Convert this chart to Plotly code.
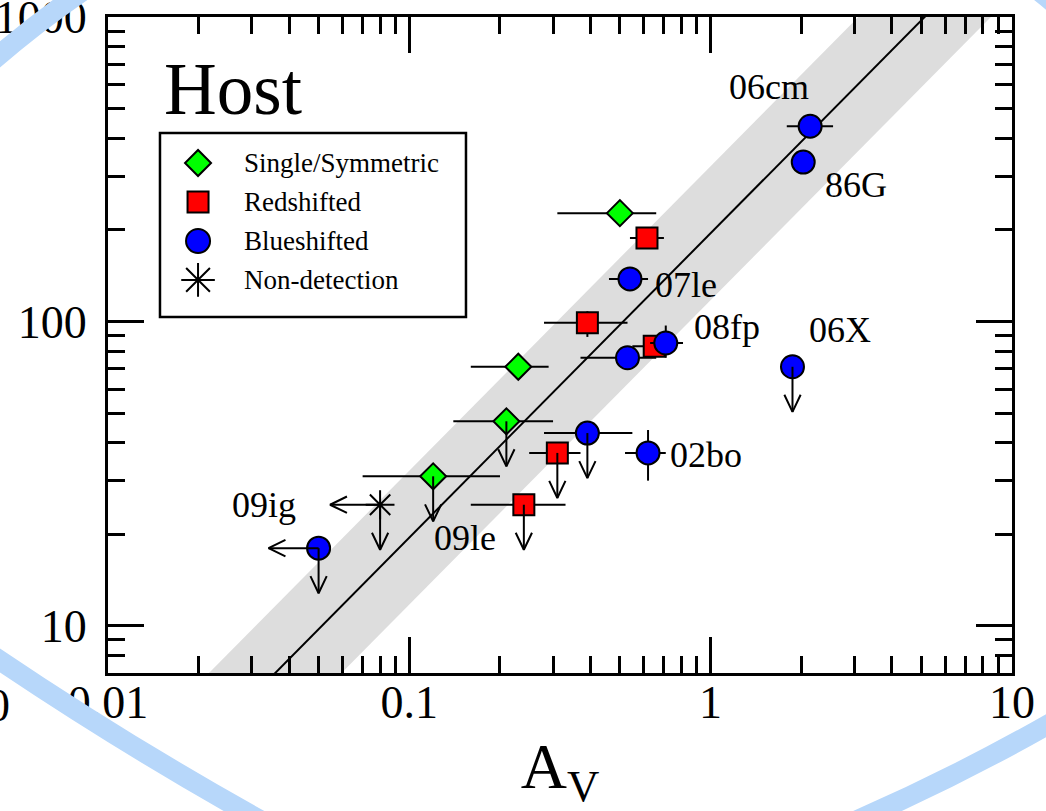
import math
import plotly.graph_objects as go

SERIF = "Liberation Serif, Times New Roman, serif"

# ---- measurements: host-galaxy absorption vs. A_V ----
# Single/Symmetric profiles
green_x = [0.50, 0.23, 0.21, 0.12]
green_y = [227, 71, 47, 31]
green_x_lo = [0.31, 0.16, 0.14, 0.070]
green_x_hi = [0.66, 0.29, 0.30, 0.20]
green_upper = [False, False, True, True]

# Redshifted profiles
red_x = [0.615, 0.39, 0.65, 0.31, 0.24]
red_y = [188, 99, 83, 37, 25]
red_x_lo = [0.54, 0.28, 0.55, 0.25, 0.16]
red_x_hi = [0.70, 0.53, 0.75, 0.37, 0.33]
red_y_lo = [188, 89, 83, 37, 25]
red_y_hi = [188, 108, 83, 37, 25]
red_upper = [False, False, False, True, True]

# Blueshifted profiles
blue_x = [2.14, 2.03, 0.54, 0.53, 0.71, 1.87, 0.39, 0.62, 0.05]
blue_y = [438, 334, 138, 76, 85, 71, 43, 37, 18]
blue_x_lo = [1.79, 2.03, 0.46, 0.37, 0.63, 1.87, 0.28, 0.52, 0.05]
blue_x_hi = [2.55, 2.03, 0.62, 0.66, 0.81, 1.87, 0.55, 0.71, 0.05]
blue_y_lo = [438, 334, 138, 76, 76, 71, 43, 30, 18]
blue_y_hi = [438, 334, 138, 76, 97, 71, 43, 44, 18]
blue_upper = [False, False, False, False, False, True, True, False, True]
blue_left = [False, False, False, False, False, False, False, False, True]

# Non-detection
nondet_x = [0.08]
nondet_y = [25]
nondet_upper = [True]
nondet_left = [True]

# Supernova names
sn_labels = ["06cm", "86G", "07le", "08fp", "06X", "02bo", "09ig", "09le"]
sn_label_x = [1.56, 3.03, 0.83, 1.13, 2.69, 0.965, 0.033, 0.153]
sn_label_y = [589, 281, 132, 96, 94, 36.3, 24.9, 19.4]

# Linear relation EW = FIT_NORM * A_V**FIT_SLOPE and its scatter band (dex)
FIT_NORM = 195.0
FIT_SLOPE = 1.0
BAND_DEX = 0.22
FIT_SPAN = [0.001, 100.0]

# Legend entries
legend_labels = ["Single/Symmetric", "Redshifted", "Blueshifted", "Non-detection"]

# ---- styling constants ----
ARROW_Y_DEX = 0.148     # length of downward limit arrows
ARROW_X_DEX = 0.166     # length of leftward limit arrows
HEAD_LEN_DEX = 0.056
HEAD_HALF_DEX = 0.027
RING_COLOR = "rgb(183,215,250)"

# page geometry (pixels)
W, H = 1046, 811
M_L, M_R, M_T, M_B = 108, 34, 17, 138
PLOT_W = W - M_L - M_R
PLOT_H = H - M_T - M_B


def err_plus(vals, his):
    return [h - v for v, h in zip(vals, his)]


def err_minus(vals, los):
    return [v - l for v, l in zip(vals, los)]


def down_arrows(xs, ys, flags):
    ax, ay = [], []
    for x, y, f in zip(xs, ys, flags):
        if not f:
            continue
        tip = y * 10 ** (-ARROW_Y_DEX)
        back = tip * 10 ** HEAD_LEN_DEX
        ax += [x, x, None, x * 10 ** (-HEAD_HALF_DEX), x, x * 10 ** HEAD_HALF_DEX, None]
        ay += [y, tip, None, back, tip, back, None]
    return ax, ay


def left_arrows(xs, ys, flags):
    ax, ay = [], []
    for x, y, f in zip(xs, ys, flags):
        if not f:
            continue
        tip = x * 10 ** (-ARROW_X_DEX)
        back = tip * 10 ** HEAD_LEN_DEX
        ax += [x, tip, None, back, tip, back, None]
        ay += [y, y, None, y * 10 ** HEAD_HALF_DEX, y, y * 10 ** (-HEAD_HALF_DEX), None]
    return ax, ay


def paper(px, py):
    """Page pixel position -> paper coordinates of the plot area."""
    return (px - M_L) / PLOT_W, (H - M_B - py) / PLOT_H


def arc_path(p0, ctrl, p1):
    (x0, y0), (cx, cy), (x1, y1) = paper(*p0), paper(*ctrl), paper(*p1)
    return f"M {x0:.4f},{y0:.4f} Q {cx:.4f},{cy:.4f} {x1:.4f},{y1:.4f}"


fig = go.Figure()

# scatter band around the relation
band_hi = [FIT_NORM * x ** FIT_SLOPE * 10 ** BAND_DEX for x in FIT_SPAN]
band_lo = [FIT_NORM * x ** FIT_SLOPE * 10 ** (-BAND_DEX) for x in FIT_SPAN]
fig.add_trace(go.Scatter(
    x=FIT_SPAN + FIT_SPAN[::-1], y=band_hi + band_lo[::-1],
    mode="lines", fill="toself", fillcolor="#dddddd",
    line=dict(width=0), hoverinfo="skip"))

# relation line
fig.add_trace(go.Scatter(
    x=FIT_SPAN, y=[FIT_NORM * x ** FIT_SLOPE for x in FIT_SPAN],
    mode="lines", line=dict(color="black", width=2), hoverinfo="skip"))

ERR_STYLE = dict(color="black", thickness=2, width=0)

fig.add_trace(go.Scatter(
    x=green_x, y=green_y, mode="markers", name="Single/Symmetric",
    marker=dict(symbol="diamond", size=20, color="#00ff00", opacity=1,
                line=dict(color="black", width=2)),
    error_x=dict(type="data", symmetric=False,
                 array=err_plus(green_x, green_x_hi),
                 arrayminus=err_minus(green_x, green_x_lo), **ERR_STYLE)))

fig.add_trace(go.Scatter(
    x=red_x, y=red_y, mode="markers", name="Redshifted",
    marker=dict(symbol="square", size=21, color="#ff0000", opacity=1,
                line=dict(color="black", width=2)),
    error_x=dict(type="data", symmetric=False,
                 array=err_plus(red_x, red_x_hi),
                 arrayminus=err_minus(red_x, red_x_lo), **ERR_STYLE),
    error_y=dict(type="data", symmetric=False,
                 array=err_plus(red_y, red_y_hi),
                 arrayminus=err_minus(red_y, red_y_lo), **ERR_STYLE)))

fig.add_trace(go.Scatter(
    x=blue_x, y=blue_y, mode="markers", name="Blueshifted",
    marker=dict(symbol="circle", size=23, color="#0000ff", opacity=1,
                line=dict(color="black", width=2)),
    error_x=dict(type="data", symmetric=False,
                 array=err_plus(blue_x, blue_x_hi),
                 arrayminus=err_minus(blue_x, blue_x_lo), **ERR_STYLE),
    error_y=dict(type="data", symmetric=False,
                 array=err_plus(blue_y, blue_y_hi),
                 arrayminus=err_minus(blue_y, blue_y_lo), **ERR_STYLE)))

fig.add_trace(go.Scatter(
    x=nondet_x, y=nondet_y, mode="markers", name="Non-detection",
    marker=dict(symbol="asterisk-open", size=24, color="black", opacity=1,
                line=dict(color="black", width=2))))

# limit arrows
arr_x, arr_y = [], []
for xs, ys, fl in [(green_x, green_y, green_upper), (red_x, red_y, red_upper),
                   (blue_x, blue_y, blue_upper), (nondet_x, nondet_y, nondet_upper)]:
    a, b = down_arrows(xs, ys, fl)
    arr_x += a
    arr_y += b
for xs, ys, fl in [(blue_x, blue_y, blue_left), (nondet_x, nondet_y, nondet_left)]:
    a, b = left_arrows(xs, ys, fl)
    arr_x += a
    arr_y += b
fig.add_trace(go.Scatter(x=arr_x, y=arr_y, mode="lines",
                         line=dict(color="black", width=2), hoverinfo="skip"))

# legend keys on an overlay axis spanning the plot area
legend_symbols = ["diamond", "square", "circle", "asterisk-open"]
legend_colors = ["#00ff00", "#ff0000", "#0000ff", "black"]
legend_sizes = [20, 21, 24, 28]
LEG_X = 0.0996
LEG_TEXT_X = 0.1482
LEG_TOP = 0.7774
LEG_STEP = 0.0594
leg_y = [LEG_TOP - i * LEG_STEP for i in range(len(legend_labels))]
fig.add_trace(go.Scatter(
    x=[LEG_X] * len(legend_labels), y=leg_y, mode="markers",
    xaxis="x2", yaxis="y2", hoverinfo="skip",
    marker=dict(symbol=legend_symbols, size=legend_sizes, color=legend_colors,
                opacity=1, line=dict(color="black", width=2))))

annotations = []
for lab, yy in zip(legend_labels, leg_y):
    annotations.append(dict(x=LEG_TEXT_X, y=yy, xref="paper", yref="paper",
                            text=lab, showarrow=False, xanchor="left", yanchor="middle",
                            font=dict(family=SERIF, size=27, color="black")))

# annotation positions on log axes are given in log10 units
for lab, lx, ly in zip(sn_labels, sn_label_x, sn_label_y):
    annotations.append(dict(x=math.log10(lx), y=math.log10(ly), xref="x", yref="y",
                            text=lab, showarrow=False, xanchor="center", yanchor="middle",
                            font=dict(family=SERIF, size=36, color="black")))

annotations.append(dict(x=0.0597, y=0.890, xref="paper", yref="paper", text="Host",
                        showarrow=False, xanchor="left", yanchor="middle",
                        font=dict(family=SERIF, size=73, color="black")))

# neighbouring panel's last tick label at the page edge
annotations.append(dict(x=-0.1062, y=-0.0503, xref="paper", yref="paper", text="10",
                        showarrow=False, xanchor="right", yanchor="middle",
                        font=dict(family=SERIF, size=46, color="black")))

# light-blue ring around the panel (only its four corner arcs fall on the page)
ring_arcs = [
    ((-30, 81), (35, 21), (110, -27)),       # top-left
    ((1015, -25), (1049, -5), (1075, 25)),   # top-right
    ((-30, 640), (130, 750), (300, 842)),    # bottom-left
    ((820, 836), (955, 780), (1080, 706)),   # bottom-right
]

shapes = [
    dict(type="rect", xref="paper", yref="paper", x0=0.0575, x1=0.396,
         y0=0.5427, y1=0.8232, line=dict(color="black", width=2.5), layer="above"),
]
for p0, c, p1 in ring_arcs:
    shapes.append(dict(type="path", xref="paper", yref="paper", path=arc_path(p0, c, p1),
                       line=dict(color=RING_COLOR, width=20), layer="above"))

minor_x = [k * 10 ** e for e in (-2, -1, 0) for k in range(2, 10)]
minor_y = [k * 10 ** e for e in (0, 1, 2) for k in range(2, 10)]

axis_common = dict(
    type="log", showline=True, linewidth=3, linecolor="black", mirror="allticks",
    ticks="inside", ticklen=36, tickwidth=2.5, tickcolor="black",
    showgrid=False, zeroline=False, automargin=False, ticklabeloverflow="allow",
    tickfont=dict(family=SERIF, size=46, color="black"))
minor_common = dict(ticks="inside", ticklen=17, tickwidth=2.5, tickcolor="black",
                    showgrid=False)

xaxis = dict(axis_common)
xaxis.update(range=[-2, 1.0004], tickvals=[0.01, 0.1, 1, 10],
             ticktext=["0.01", "0.1", "1", "10"], ticklabelstandoff=-13,
             minor=dict(minor_common, tickvals=minor_x),
             title=dict(text="A<sub>V</sub>", standoff=41,
                        font=dict(family=SERIF, size=64, color="black")))
yaxis = dict(axis_common)
yaxis.update(range=[0.84510, 3.0005], tickvals=[10, 100, 1000],
             ticktext=["10", "100", "1000"], ticklabelstandoff=9,
             minor=dict(minor_common, tickvals=minor_y))

fig.update_layout(
    width=W, height=H,
    margin=dict(l=M_L, r=M_R, t=M_T, b=M_B),
    paper_bgcolor="white", plot_bgcolor="white",
    showlegend=False,
    font=dict(family=SERIF, color="black"),
    xaxis=xaxis, yaxis=yaxis,
    xaxis2=dict(overlaying="x", range=[0, 1], visible=False, fixedrange=True),
    yaxis2=dict(overlaying="y", range=[0, 1], visible=False, fixedrange=True),
    annotations=annotations, shapes=shapes,
)

fig.write_html("out.html")
